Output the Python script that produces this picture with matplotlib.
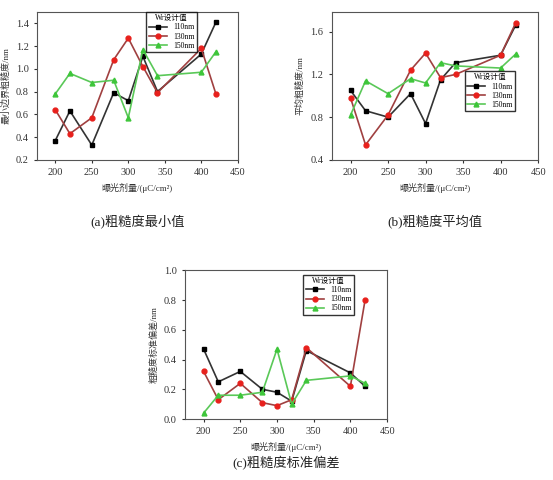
import matplotlib
matplotlib.use("Agg")
import matplotlib.pyplot as plt

plt.rcParams['font.family'] = ['Liberation Serif', 'Noto Sans CJK SC', 'DejaVu Sans']

x = [200, 220, 250, 280, 300, 320, 340, 400, 420]
series_names = ['110nm', '130nm', '150nm']
a_110 = [0.37, 0.63, 0.33, 0.79, 0.72, 1.11, 0.80, 1.13, 1.41]
a_130 = [0.64, 0.43, 0.57, 1.08, 1.27, 1.02, 0.79, 1.18, 0.78]
a_150 = [0.78, 0.96, 0.88, 0.90, 0.57, 1.17, 0.94, 0.97, 1.15]
b_110 = [1.05, 0.86, 0.80, 1.02, 0.74, 1.15, 1.31, 1.38, 1.66]
b_130 = [0.98, 0.54, 0.82, 1.24, 1.40, 1.17, 1.20, 1.38, 1.68]
b_150 = [0.82, 1.14, 1.02, 1.16, 1.12, 1.31, 1.28, 1.26, 1.39]
c_110 = [0.47, 0.25, 0.32, 0.20, 0.18, 0.12, 0.46, 0.31, 0.22]
c_130 = [0.32, 0.13, 0.24, 0.11, 0.09, 0.13, 0.48, 0.22, 0.80]
c_150 = [0.04, 0.16, 0.16, 0.18, 0.47, 0.10, 0.26, 0.29, 0.24]

fig = plt.figure(figsize=(5.53, 4.8), dpi=100)
specs = [
    ([0.067, 0.667, 0.363, 0.308], (a_110, a_130, a_150), (0.2, 1.5), [0.2, 0.4, 0.6, 0.8, 1.0, 1.2, 1.4],
     '最小边界粗糙度/nm', '(a)粗糙度最小值', 'upper left', (0.545, 1.0), -0.42),
    ([0.600, 0.667, 0.373, 0.308], (b_110, b_130, b_150), (0.4, 1.785), [0.4, 0.8, 1.2, 1.6],
     '平均粗糙度/nm', '(b)粗糙度平均值', 'upper left', (0.645, 0.6), -0.42),
    ([0.335, 0.127, 0.365, 0.310], (c_110, c_130, c_150), (0.0, 1.0), [0.0, 0.2, 0.4, 0.6, 0.8, 1.0],
     '粗糙度标准偏差/nm', '(c)粗糙度标准偏差', 'upper left', (0.585, 0.97), -0.3),
]
colors = ['black', '#e8201c', '#3ec63a']
lcolors = ['#333333', '#a04040', '#5ac858']
markers = ['s', 'o', '^']
for rect, ys, ylim, yt, ylab, cap, loc, anchor, capy in specs:
    ax = fig.add_axes(rect)
    for y, c, lc, m, n in zip(ys, colors, lcolors, markers, series_names):
        ax.plot(x, y, color=lc, lw=1.2, marker=m, ms=3.5, mfc=c, mec=c, label=n)
    ax.set_xlim(175, 450)
    ax.set_xticks([200, 250, 300, 350, 400, 450])
    ax.set_ylim(*ylim)
    ax.set_yticks(yt)
    ax.tick_params(labelsize=7.5, direction='out', length=2.5, colors='#333333')
    for s in ax.spines.values():
        s.set_color('#555555')
    ax.set_ylabel(ylab, fontsize=6.5, color='#333333')
    ax.set_xlabel('曝光剂量/(μC/cm²)', fontsize=6.5, color='#333333')
    ax.legend(title='Wr设计值', fontsize=5.5, title_fontsize=5.5, loc=loc, bbox_to_anchor=anchor,
              frameon=True, fancybox=False, edgecolor='black', borderpad=0.3,
              handlelength=2.4, labelspacing=0.15, borderaxespad=0.0)
    ax.text(0.5, capy, cap, transform=ax.transAxes, ha='center', va='center',
            fontsize=9.5, color='#222222')
fig.savefig('out.png', dpi=100)
